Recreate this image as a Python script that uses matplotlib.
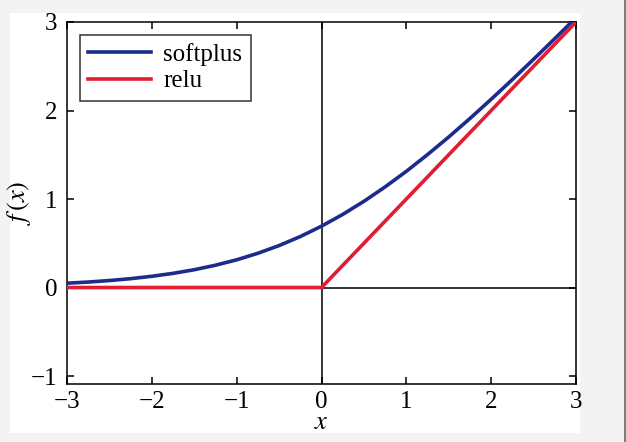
import numpy as np
import matplotlib.pyplot as plt
from matplotlib.patches import Rectangle
from matplotlib.lines import Line2D

# ======================
# DATA
# ======================
x_soft = [-3.0, -2.75, -2.5, -2.25, -2.0, -1.75, -1.5, -1.25, -1.0, -0.75, -0.5, -0.25,
          0.0, 0.25, 0.5, 0.75, 1.0, 1.25, 1.5, 1.75, 2.0, 2.25, 2.5, 2.75, 3.0]
y_soft = [0.049, 0.062, 0.079, 0.100, 0.127, 0.160, 0.201, 0.252, 0.313, 0.387, 0.474, 0.576,
          0.693, 0.826, 0.974, 1.137, 1.313, 1.502, 1.701, 1.910, 2.127, 2.350, 2.579, 2.812, 3.049]

x_relu = [-3, 0, 3]
y_relu = [0, 0, 3]

x_ticks = [-3, -2, -1, 0, 1, 2, 3]
y_ticks = [-1, 0, 1, 2, 3]

blue = "#1c2b8c"
red = "#e11d32"

plt.rcParams["font.family"] = ["Liberation Serif", "DejaVu Serif"]
plt.rcParams["mathtext.fontset"] = "stix"

# ======================
# FIGURE
# ======================
fig = plt.figure(figsize=(6.26, 4.42), dpi=100, facecolor="#f3f3f3")
fig.patches.append(Rectangle((10 / 626, 1 - 433 / 442), 570 / 626, 420 / 442,
                             transform=fig.transFigure, facecolor="white",
                             edgecolor="none", zorder=-5))
fig.lines.append(Line2D([625 / 626, 625 / 626], [0, 1], transform=fig.transFigure,
                        color="#666666", lw=1.2))

ax = fig.add_axes([67 / 626, 1 - 384 / 442, 509 / 626, 362 / 442])
ax.set_zorder(2)

ax.axhline(0, color="black", lw=1.1, zorder=1)
ax.axvline(0, color="black", lw=1.1, zorder=1)

ax.plot(x_soft, y_soft, color=blue, lw=2.6, label="softplus", zorder=3)
ax.plot(x_relu, y_relu, color=red, lw=2.6, label="relu", zorder=3)

ax.set_xlim(-3, 3)
ax.set_ylim(-1.09, 3)
ax.set_xticks(x_ticks)
ax.set_yticks(y_ticks)
ax.set_xticklabels([f"{t}".replace("-", "\u2212") for t in x_ticks])
ax.set_yticklabels([f"{t}".replace("-", "\u2212") for t in y_ticks])

ax.tick_params(direction="in", length=5, width=1.1, top=True, right=True,
               labelsize=18)
ax.tick_params(axis="y", pad=7)
ax.tick_params(axis="x", pad=5)
for s in ax.spines.values():
    s.set_linewidth(1.1)

ax.set_xlabel(r"$x$", fontsize=19, labelpad=-1)
ax.set_ylabel(r"$f\,(x)$", fontsize=19)
ax.yaxis.set_label_coords(-0.066, 0.5)

leg = ax.legend(loc="upper left", fontsize=18, frameon=True, fancybox=False,
                edgecolor="black", handlelength=2.5, borderpad=0.35,
                labelspacing=0.15, handletextpad=0.5, borderaxespad=0.5)
leg.get_frame().set_linewidth(1.1)

plt.savefig("out.png", dpi=100, facecolor=fig.get_facecolor())
